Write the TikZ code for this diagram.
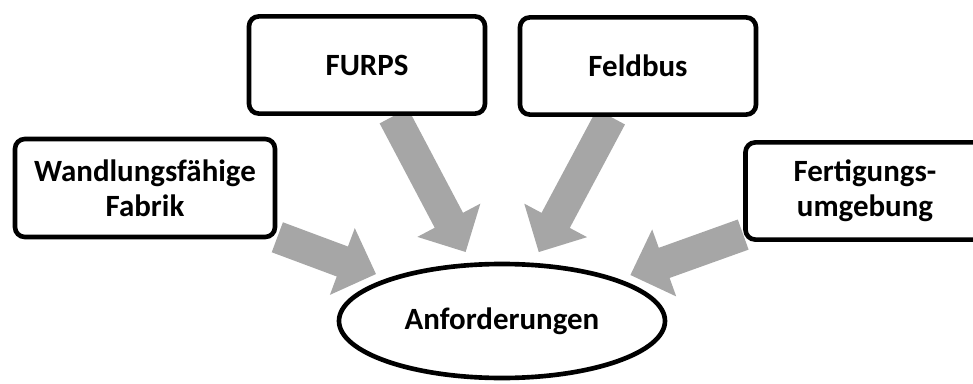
\documentclass[tikz,border=0pt]{standalone}
\usepackage{fontspec}
\setmainfont{Carlito}
\usetikzlibrary{arrows.meta, shapes.geometric, backgrounds}

\tikzset{
  kasten/.style={draw, line width=3.3pt, rounded corners=7pt, fill=white, align=center,
    minimum width=5.9cm, minimum height=2.43cm, font=\bfseries\fontsize{22}{25}\selectfont},
  pfeil/.style={draw=black!35, line width=0.8cm, -{Triangle[width=1.725cm, length=0.9cm]}, shorten >=0.3cm}
}

\begin{document}
\begin{tikzpicture}
        \useasboundingbox (0, 0) rectangle (24.325, 9.575);

        % Kästen
        \node[kasten, minimum width=6.5cm, minimum height=2.45cm] (fabrik) at (3.625, 4.875) {Wandlungsfähige\\Fabrik};
        \node[kasten] (furps) at (9.175, 7.95) {FURPS};
        \node[kasten] (feldbus) at (15.95, 7.925) {Feldbus};
        \node[kasten, minimum width=5.975cm] (fertigung) at (21.625, 4.8) {Fertigungs-\\umgebung};

        % Ellipse
        \node[draw, ellipse, line width=3.3pt, inner sep=0pt, minimum width=8.15cm, minimum height=2.85cm,
            font=\bfseries\fontsize{22}{25}\selectfont] (anf) at (12.55, 1.55) {Anforderungen};

        % Pfeile
        \begin{scope}[on background layer]
            \draw[pfeil] (fabrik) -- (anf);
            \draw[pfeil] (furps) -- (anf);
            \draw[pfeil] (feldbus) -- (anf);
            \draw[pfeil] (fertigung) -- (anf);
        \end{scope}

    \end{tikzpicture}
\end{document}
